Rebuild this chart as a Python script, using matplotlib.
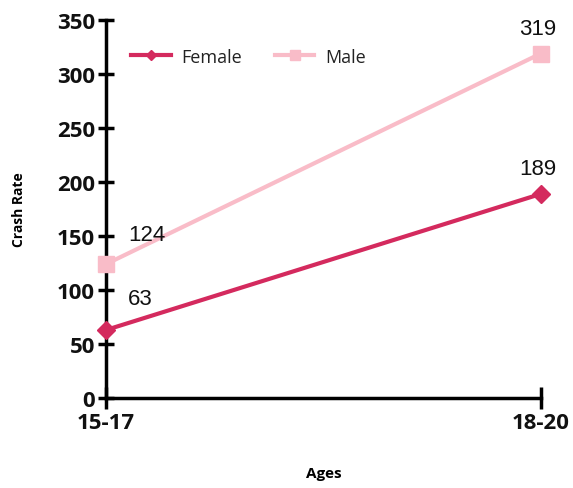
import matplotlib.pyplot as plt

ages = ['15-17', '18-20']
female = [63, 189]
male = [124, 319]
yticks = [0, 50, 100, 150, 200, 250, 300, 350]

female_color = '#D42A5E'
male_color = '#F9BCC8'

fig = plt.figure(figsize=(5.73, 4.89), dpi=100)
ax = fig.add_axes([0.185, 0.184, 0.759, 0.773])

x = list(range(len(ages)))
ax.plot(x, male, color=male_color, lw=3, marker='s', ms=12, label='Male', zorder=3, clip_on=False)
ax.plot(x, female, color=female_color, lw=3, marker='D', ms=9, label='Female', zorder=4, clip_on=False)

# data labels
lab_kw = dict(textcoords='offset points', fontsize=16, family='Liberation Sans', color='#111111')
ax.annotate(str(female[0]), (x[0], female[0]), xytext=(16, 19), **lab_kw)
ax.annotate(str(male[0]), (x[0], male[0]), xytext=(16, 17), **lab_kw)
ax.annotate(str(female[1]), (x[1], female[1]), xytext=(-2, 14), ha='center', **lab_kw)
ax.annotate(str(male[1]), (x[1], male[1]), xytext=(-2, 14), ha='center', **lab_kw)

ax.set_xlim(0, 1)
ax.set_ylim(0, 350)
ax.set_xticks(x)
ax.set_xticklabels(ages)
ax.set_yticks(yticks)

for s in ['top', 'right']:
    ax.spines[s].set_visible(False)
for s in ['left', 'bottom']:
    ax.spines[s].set_linewidth(2.5)
ax.tick_params(axis='y', direction='inout', length=12, width=2.5, pad=2)
ax.tick_params(axis='x', direction='inout', length=16, width=2.5, pad=2)
for lab in ax.get_xticklabels() + ax.get_yticklabels():
    lab.set_fontfamily('Open Sans')
    lab.set_fontweight('bold')
    lab.set_fontsize(16)
    lab.set_color('#111111')

ax.set_ylabel('Crash Rate', fontsize=10, fontweight='bold', family='Open Sans', labelpad=22)
ax.set_xlabel('Ages', fontsize=11, fontweight='bold', family='Open Sans', labelpad=24)

h, l = ax.get_legend_handles_labels()
ax.legend(h[::-1], l[::-1], loc='upper left', bbox_to_anchor=(0.02, 0.97), ncol=2, frameon=False,
          prop={'family': 'Open Sans', 'size': 13}, markerscale=0.6, handlelength=2.2,
          handletextpad=0.6, columnspacing=1.8, labelcolor='#222222')

fig.savefig('out.png', dpi=100)
